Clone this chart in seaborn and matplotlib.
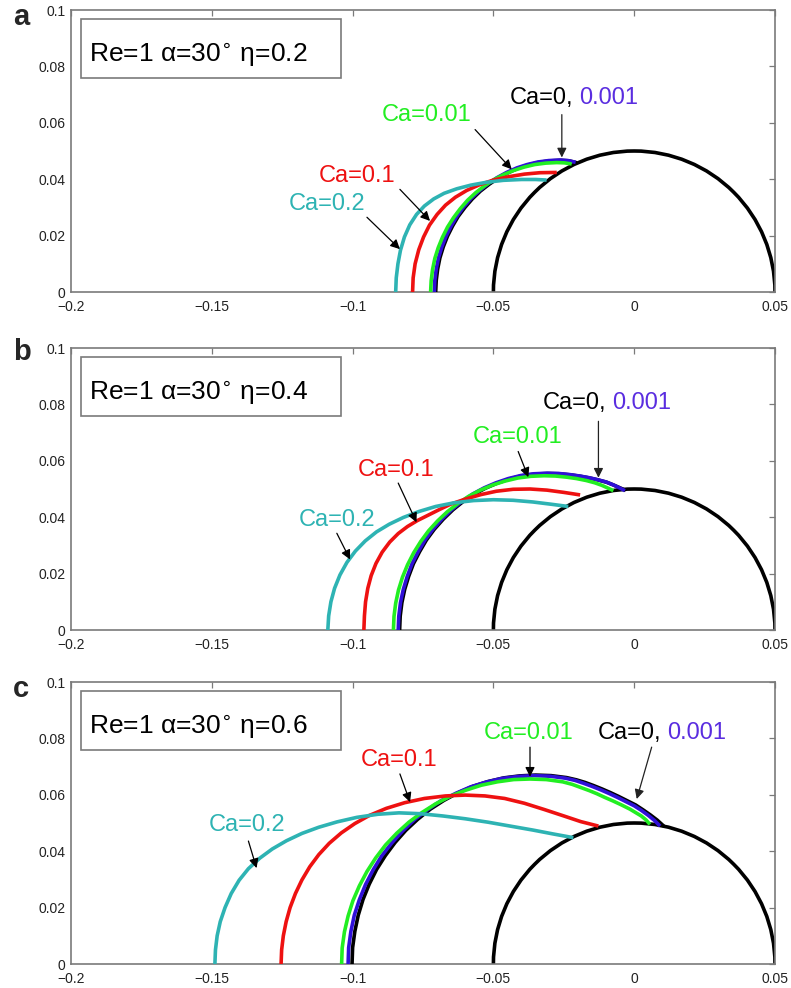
import numpy as np
import pandas as pd
import seaborn as sns
import matplotlib.pyplot as plt
from matplotlib.patches import Arc, Rectangle

sns.set_theme(style="white")
plt.rcParams["font.family"] = ["Liberation Sans", "DejaVu Sans"]
plt.rcParams["mathtext.fontset"] = "dejavusans"

# ---------------------------------------------------------------- data
sphere_radius = 0.05
eta_values = [0.2, 0.4, 0.6]
panel_letters = ["a", "b", "c"]

x_ticks = [-0.2, -0.15, -0.1, -0.05, 0.0, 0.05]
x_tick_labels = ["\u22120.2", "\u22120.15", "\u22120.1", "\u22120.05", "0", "0.05"]
y_ticks = [0.0, 0.02, 0.04, 0.06, 0.08, 0.1]
y_tick_labels = ["0", "0.02", "0.04", "0.06", "0.08", "0.1"]

# eta = 0.2
a_ca0_x = [-0.0705, -0.0703, -0.0698, -0.0690, -0.0678, -0.0663, -0.0645, -0.0625, -0.0601, -0.0575, -0.0546,
           -0.0515, -0.0483, -0.0448, -0.0412, -0.0375, -0.0337, -0.0299, -0.0260, -0.0231, -0.0203]
a_ca0_y = [0.0, 0.0041, 0.0081, 0.0121, 0.0160, 0.0198, 0.0234, 0.0268, 0.0300, 0.0330, 0.0358,
           0.0382, 0.0404, 0.0423, 0.0439, 0.0451, 0.0460, 0.0465, 0.0467, 0.0465, 0.0458]
a_ca0001_x = [-0.0710, -0.0708, -0.0703, -0.0695, -0.0683, -0.0668, -0.0650, -0.0630, -0.0606, -0.0580, -0.0551,
              -0.0520, -0.0488, -0.0453, -0.0417, -0.0380, -0.0342, -0.0304, -0.0265, -0.0235, -0.0208]
a_ca0001_y = [0.0, 0.0041, 0.0081, 0.0121, 0.0160, 0.0198, 0.0234, 0.0268, 0.0301, 0.0331, 0.0358,
              0.0383, 0.0405, 0.0424, 0.0440, 0.0452, 0.0461, 0.0466, 0.0468, 0.0466, 0.0460]
a_ca001_x = [-0.0723, -0.0721, -0.0716, -0.0708, -0.0696, -0.0681, -0.0663, -0.0642, -0.0618, -0.0592, -0.0563,
             -0.0532, -0.0499, -0.0464, -0.0428, -0.0391, -0.0353, -0.0314, -0.0275, -0.0248, -0.0222]
a_ca001_y = [0.0, 0.0040, 0.0080, 0.0119, 0.0157, 0.0194, 0.0230, 0.0263, 0.0295, 0.0325, 0.0352,
             0.0376, 0.0398, 0.0416, 0.0431, 0.0443, 0.0452, 0.0457, 0.0459, 0.0458, 0.0454]
a_ca01_x = [-0.0787, -0.0785, -0.0778, -0.0765, -0.0748, -0.0727, -0.0700, -0.0670, -0.0635, -0.0595,
            -0.0550, -0.0500, -0.0445, -0.0390, -0.0335, -0.0275]
a_ca01_y = [0.0, 0.0050, 0.0100, 0.0150, 0.0195, 0.0237, 0.0275, 0.0308, 0.0336, 0.0360,
            0.0380, 0.0397, 0.0409, 0.0418, 0.0423, 0.0424]
a_ca02_x = [-0.0847, -0.0845, -0.0839, -0.0830, -0.0816, -0.0797, -0.0773, -0.0745, -0.0712, -0.0675,
            -0.0630, -0.0580, -0.0525, -0.0465, -0.0400, -0.0350, -0.0311]
a_ca02_y = [0.0, 0.0050, 0.0100, 0.0148, 0.0195, 0.0238, 0.0275, 0.0305, 0.0330, 0.0350,
            0.0366, 0.0379, 0.0389, 0.0396, 0.0399, 0.0399, 0.0397]

# eta = 0.4
b_ca0_x = [-0.0833, -0.0831, -0.0825, -0.0815, -0.0801, -0.0784, -0.0762, -0.0738, -0.0710, -0.0678,
           -0.0644, -0.0608, -0.0569, -0.0528, -0.0486, -0.0442, -0.0398, -0.0352, -0.0307, -0.0266,
           -0.0226, -0.0191, -0.0158, -0.0128, -0.0098, -0.0073, -0.0048, -0.0030]
b_ca0_y = [0.0, 0.0049, 0.0097, 0.0144, 0.0190, 0.0235, 0.0278, 0.0319, 0.0357, 0.0393,
           0.0426, 0.0455, 0.0481, 0.0503, 0.0521, 0.0536, 0.0547, 0.0553, 0.0555, 0.0554,
           0.0550, 0.0545, 0.0539, 0.0532, 0.0524, 0.0514, 0.0503, 0.0495]
b_ca0001_x = [-0.0838, -0.0836, -0.0830, -0.0820, -0.0806, -0.0789, -0.0767, -0.0743, -0.0715, -0.0683,
              -0.0649, -0.0613, -0.0574, -0.0533, -0.0491, -0.0447, -0.0402, -0.0356, -0.0310, -0.0268,
              -0.0228, -0.0193, -0.0160, -0.0130, -0.0100, -0.0075, -0.0050, -0.0033]
b_ca0001_y = [0.0, 0.0049, 0.0097, 0.0144, 0.0190, 0.0235, 0.0278, 0.0319, 0.0357, 0.0393,
              0.0426, 0.0455, 0.0482, 0.0504, 0.0522, 0.0537, 0.0548, 0.0554, 0.0556, 0.0555,
              0.0551, 0.0546, 0.0540, 0.0533, 0.0525, 0.0515, 0.0503, 0.0494]
b_ca001_x = [-0.0855, -0.0853, -0.0847, -0.0837, -0.0823, -0.0805, -0.0783, -0.0758, -0.0730, -0.0698,
             -0.0664, -0.0627, -0.0588, -0.0546, -0.0503, -0.0459, -0.0413, -0.0367, -0.0320, -0.0280,
             -0.0240, -0.0205, -0.0170, -0.0140, -0.0115, -0.0095, -0.0074]
b_ca001_y = [0.0, 0.0048, 0.0095, 0.0142, 0.0187, 0.0231, 0.0274, 0.0314, 0.0352, 0.0387,
             0.0419, 0.0448, 0.0474, 0.0496, 0.0514, 0.0528, 0.0539, 0.0545, 0.0547, 0.0546,
             0.0542, 0.0537, 0.0530, 0.0522, 0.0513, 0.0504, 0.0494]
b_ca01_x = [-0.0960, -0.0958, -0.0954, -0.0946, -0.0934, -0.0917, -0.0895, -0.0868, -0.0838, -0.0805,
            -0.0770, -0.0730, -0.0690, -0.0650, -0.0600, -0.0545, -0.0490, -0.0430, -0.0370, -0.0310,
            -0.0250, -0.0192]
b_ca01_y = [0.0, 0.0050, 0.0100, 0.0148, 0.0193, 0.0236, 0.0276, 0.0312, 0.0342, 0.0367,
            0.0388, 0.0408, 0.0428, 0.0447, 0.0464, 0.0480, 0.0492, 0.0499, 0.0500, 0.0496,
            0.0488, 0.0479]
b_ca02_x = [-0.1088, -0.1085, -0.1077, -0.1064, -0.1045, -0.1020, -0.0990, -0.0955, -0.0915, -0.0870,
            -0.0820, -0.0765, -0.0705, -0.0640, -0.0570, -0.0500, -0.0430, -0.0360, -0.0295, -0.0234]
b_ca02_y = [0.0, 0.0050, 0.0100, 0.0148, 0.0195, 0.0240, 0.0280, 0.0316, 0.0348, 0.0375,
            0.0399, 0.0420, 0.0438, 0.0451, 0.0459, 0.0462, 0.0460, 0.0454, 0.0446, 0.0438]

# eta = 0.6
c_ca0_x = [-0.1002, -0.1000, -0.0992, -0.0980, -0.0963, -0.0941, -0.0915, -0.0884, -0.0849, -0.0811,
           -0.0769, -0.0724, -0.0676, -0.0626, -0.0573, -0.0519, -0.0463, -0.0407, -0.0350, -0.0295,
           -0.0240, -0.0205, -0.0175, -0.0145, -0.0115, -0.0085, -0.0055, -0.0025, 0.0005, 0.0031,
           0.0057, 0.0082, 0.0105]
c_ca0_y = [0.0, 0.0058, 0.0116, 0.0173, 0.0229, 0.0283, 0.0335, 0.0384, 0.0431, 0.0474,
           0.0513, 0.0549, 0.0580, 0.0607, 0.0630, 0.0647, 0.0660, 0.0667, 0.0670, 0.0668,
           0.0661, 0.0653, 0.0644, 0.0633, 0.0621, 0.0608, 0.0594, 0.0579, 0.0564, 0.0547,
           0.0529, 0.0510, 0.0489]
c_ca0001_x = [-0.1016, -0.1014, -0.1006, -0.0994, -0.0976, -0.0954, -0.0927, -0.0897, -0.0861, -0.0822,
              -0.0780, -0.0734, -0.0686, -0.0634, -0.0581, -0.0526, -0.0470, -0.0413, -0.0355, -0.0300,
              -0.0245, -0.0210, -0.0180, -0.0150, -0.0120, -0.0090, -0.0060, -0.0030, 0.0000, 0.0025,
              0.0050, 0.0072, 0.0092]
c_ca0001_y = [0.0, 0.0058, 0.0116, 0.0173, 0.0228, 0.0282, 0.0334, 0.0383, 0.0429, 0.0472,
              0.0512, 0.0547, 0.0579, 0.0605, 0.0628, 0.0645, 0.0658, 0.0665, 0.0668, 0.0666,
              0.0659, 0.0651, 0.0641, 0.0630, 0.0618, 0.0605, 0.0591, 0.0576, 0.0561, 0.0545,
              0.0527, 0.0509, 0.0489]
c_ca001_x = [-0.1039, -0.1037, -0.1029, -0.1016, -0.0999, -0.0976, -0.0949, -0.0918, -0.0883, -0.0843,
             -0.0800, -0.0754, -0.0705, -0.0653, -0.0599, -0.0543, -0.0486, -0.0428, -0.0370, -0.0312,
             -0.0254, -0.0220, -0.0190, -0.0160, -0.0133, -0.0105, -0.0075, -0.0045, -0.0015, 0.0005,
             0.0025, 0.0042, 0.0056]
c_ca001_y = [0.0, 0.0057, 0.0114, 0.0170, 0.0224, 0.0277, 0.0328, 0.0376, 0.0422, 0.0464,
             0.0503, 0.0537, 0.0568, 0.0595, 0.0616, 0.0634, 0.0646, 0.0654, 0.0656, 0.0654,
             0.0646, 0.0637, 0.0626, 0.0615, 0.0604, 0.0591, 0.0578, 0.0564, 0.0549, 0.0537,
             0.0525, 0.0511, 0.0495]
c_ca01_x = [-0.1254, -0.1252, -0.1246, -0.1236, -0.1222, -0.1203, -0.1180, -0.1152, -0.1120, -0.1083,
            -0.1040, -0.0992, -0.0940, -0.0880, -0.0815, -0.0745, -0.0670, -0.0600, -0.0530, -0.0460,
            -0.0390, -0.0320, -0.0250, -0.0190, -0.0127]
c_ca01_y = [0.0, 0.0050, 0.0100, 0.0150, 0.0200, 0.0250, 0.0298, 0.0345, 0.0388, 0.0428,
            0.0465, 0.0498, 0.0527, 0.0552, 0.0572, 0.0587, 0.0596, 0.0599, 0.0596, 0.0587,
            0.0570, 0.0548, 0.0525, 0.0505, 0.0489]
c_ca02_x = [-0.1489, -0.1487, -0.1481, -0.1470, -0.1453, -0.1431, -0.1403, -0.1370, -0.1330, -0.1285,
            -0.1235, -0.1180, -0.1120, -0.1055, -0.0985, -0.0910, -0.0835, -0.0760, -0.0680, -0.0600,
            -0.0520, -0.0440, -0.0360, -0.0287, -0.0216]
c_ca02_y = [0.0, 0.0050, 0.0100, 0.0150, 0.0200, 0.0250, 0.0297, 0.0338, 0.0375, 0.0408,
            0.0437, 0.0463, 0.0485, 0.0504, 0.0520, 0.0531, 0.0536, 0.0533, 0.0525, 0.0515,
            0.0503, 0.0489, 0.0475, 0.0461, 0.0448]

profiles = {
    "a": [(a_ca0_x, a_ca0_y), (a_ca0001_x, a_ca0001_y), (a_ca001_x, a_ca001_y), (a_ca01_x, a_ca01_y), (a_ca02_x, a_ca02_y)],
    "b": [(b_ca0_x, b_ca0_y), (b_ca0001_x, b_ca0001_y), (b_ca001_x, b_ca001_y), (b_ca01_x, b_ca01_y), (b_ca02_x, b_ca02_y)],
    "c": [(c_ca0_x, c_ca0_y), (c_ca0001_x, c_ca0001_y), (c_ca001_x, c_ca001_y), (c_ca01_x, c_ca01_y), (c_ca02_x, c_ca02_y)],
}
ca_labels = ["0", "0.001", "0.01", "0.1", "0.2"]
ca_colors = ["#000000", "#3010d8", "#22ee22", "#ee1111", "#2eb3b3"]

# label text position, arrow start, arrow tip
label_spots = {
    "a": {"0.2": ((-0.1091, 0.0311), (-0.0949, 0.0265), (-0.0832, 0.0152)),
          "0.1": ((-0.0983, 0.0410), (-0.0832, 0.0364), (-0.0725, 0.0252)),
          "0.01": ((-0.0736, 0.0629), (-0.0565, 0.0576), (-0.0435, 0.0435)),
          "0": ((-0.0441, 0.0689), (-0.0257, 0.0629), (-0.0257, 0.0477))},
    "b": {"0.2": ((-0.1055, 0.0391), (-0.1056, 0.0343), (-0.1009, 0.0250)),
          "0.1": ((-0.0846, 0.0569), (-0.0838, 0.0521), (-0.0773, 0.0382)),
          "0.01": ((-0.0414, 0.0683), (-0.0412, 0.0633), (-0.0376, 0.0542)),
          "0": ((-0.0324, 0.0804), (-0.0127, 0.0740), (-0.0127, 0.0540))},
    "c": {"0.2": ((-0.1375, 0.0493), (-0.1370, 0.0436), (-0.1341, 0.0340)),
          "0.1": ((-0.0835, 0.0725), (-0.0832, 0.0674), (-0.0796, 0.0574)),
          "0.01": ((-0.0374, 0.0820), (-0.0370, 0.0769), (-0.0370, 0.0664)),
          "0": ((-0.0129, 0.0818), (0.0062, 0.0769), (0.0009, 0.0585))},
}

# ---------------------------------------------------------------- figure
fig = plt.figure(figsize=(7.91, 9.88), dpi=100)
left, width = 71 / 791, 704 / 791
panel_tops = [10, 348, 682]
panel_h = 282
letter_base = [25, 360, 697]

frame_grey = "#7a7a7a"
label_fs = 17

for k, letter in enumerate(panel_letters):
    top = panel_tops[k]
    ax = fig.add_axes([left, 1 - (top + panel_h) / 988, width, panel_h / 988])

    # sphere surface
    ax.add_patch(Arc((0, 0), 2 * sphere_radius, 2 * sphere_radius, theta1=0, theta2=180,
                     color="black", lw=2.6, zorder=2))

    for (xs, ys), lab, col in zip(profiles[letter], ca_labels, ca_colors):
        df = pd.DataFrame({"x": xs, "y": ys})
        sns.lineplot(data=df, x="x", y="y", sort=False, estimator=None, color=col,
                     lw=2.6, ax=ax, legend=False, zorder=3,
                     solid_joinstyle="round", solid_capstyle="butt")

    ax.set_xlim(-0.2, 0.05)
    ax.set_ylim(0, 0.1)
    ax.set_xticks(x_ticks)
    ax.set_xticklabels(x_tick_labels)
    ax.set_yticks(y_ticks)
    ax.set_yticklabels(y_tick_labels)
    ax.set_xlabel("")
    ax.set_ylabel("")
    ax.tick_params(direction="in", length=4, width=0.9, color=frame_grey,
                   top=True, right=True, labelsize=10, labelcolor="#222222")
    ax.tick_params(axis="x", pad=6)
    ax.tick_params(axis="y", pad=4)
    for sp in ax.spines.values():
        sp.set_color(frame_grey)
        sp.set_linewidth(1.2)

    # parameter box
    ax.add_patch(Rectangle((0.0142, 0.758), 0.3693, 0.210, transform=ax.transAxes,
                           fill=False, edgecolor=frame_grey, lw=1.2, zorder=5))
    ax.text(0.0256, 0.817, "Re=1 \u03b1=30$^{\\circ}$ \u03b7=%.1f" % eta_values[k],
            transform=ax.transAxes, fontsize=19, color="black", va="baseline", ha="left", zorder=6)

    # capillary number labels with arrows
    spots = label_spots[letter]
    for key, col in [("0.2", ca_colors[4]), ("0.1", ca_colors[3]), ("0.01", ca_colors[2])]:
        (tx, ty), start, tip = spots[key]
        ax.text(tx, ty, "Ca=" + key, color=col, fontsize=label_fs, ha="center", va="center", zorder=6)
        ax.annotate("", xy=tip, xytext=start,
                    arrowprops=dict(arrowstyle="-|>", color="black", lw=0.9,
                                    mutation_scale=14, shrinkA=0, shrinkB=0), zorder=6)
    (tx, ty), start, tip = spots["0"]
    t0 = ax.text(tx, ty, "Ca=0,", color="black", fontsize=label_fs, ha="left", va="center", zorder=6)
    ax.annotate("0.001", xy=(1, 0), xycoords=t0, xytext=(4, 0), textcoords="offset points",
                color="#5a2de0", fontsize=label_fs, ha="left", va="bottom", zorder=6)
    ax.annotate("", xy=tip, xytext=start,
                arrowprops=dict(arrowstyle="-|>", color="#222222", lw=0.9,
                                mutation_scale=14, shrinkA=0, shrinkB=0), zorder=6)

    fig.text(13 / 791, 1 - letter_base[k] / 988, letter, fontsize=21, fontweight="bold",
             ha="left", va="baseline")

fig.savefig("out.png", dpi=100, facecolor="white")
